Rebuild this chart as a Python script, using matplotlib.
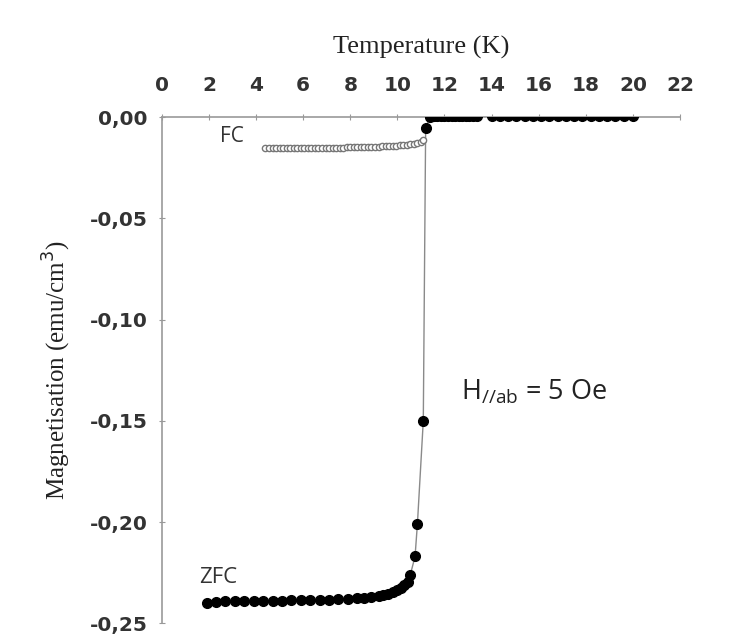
import numpy as np
import matplotlib
matplotlib.use('Agg')
import matplotlib.pyplot as plt

# ZFC branch (filled markers)
zfc_T = [1.9, 2.3, 2.7, 3.1, 3.5, 3.9, 4.3, 4.7, 5.1, 5.5, 5.9, 6.3, 6.7, 7.1, 7.5,
         7.9, 8.3, 8.6, 8.9, 9.2, 9.4, 9.6, 9.8, 10.0, 10.15, 10.3, 10.45, 10.55,
         10.75, 10.85, 11.1, 11.2, 11.4, 11.55, 11.7, 11.85, 12.0, 12.15, 12.3,
         12.45, 12.6, 12.75, 12.9, 13.05, 13.2, 13.4, 14.0, 14.35, 14.7, 15.05,
         15.4, 15.75, 16.1, 16.45, 16.8, 17.15, 17.5, 17.85, 18.2, 18.55, 18.9,
         19.25, 19.6, 20.0]
zfc_M = [-0.2400, -0.2393, -0.2391, -0.2390, -0.2390, -0.2389, -0.2389, -0.2388,
         -0.2388, -0.2387, -0.2387, -0.2386, -0.2385, -0.2384, -0.2382, -0.2380,
         -0.2377, -0.2374, -0.2370, -0.2365, -0.2360, -0.2353, -0.2345, -0.2335,
         -0.2325, -0.2312, -0.2295, -0.2260, -0.2170, -0.2010, -0.1500, -0.0054,
         0.0002, 0.0003, 0.0003, 0.0003, 0.0003, 0.0003, 0.0003, 0.0003, 0.0003,
         0.0003, 0.0003, 0.0003, 0.0003, 0.0003, 0.0003, 0.0003, 0.0003, 0.0003,
         0.0003, 0.0003, 0.0003, 0.0003, 0.0003, 0.0003, 0.0003, 0.0003, 0.0003,
         0.0003, 0.0003, 0.0003, 0.0003, 0.0003]

# FC branch (open markers)
fc_T = [4.4, 4.55, 4.7, 4.85, 5.0, 5.15, 5.3, 5.45, 5.6, 5.75, 5.9, 6.05, 6.2,
        6.35, 6.5, 6.65, 6.8, 6.95, 7.1, 7.25, 7.4, 7.55, 7.7, 7.85, 8.0, 8.15,
        8.3, 8.45, 8.6, 8.75, 8.9, 9.05, 9.2, 9.35, 9.5, 9.65, 9.8, 9.95, 10.1,
        10.25, 10.4, 10.55, 10.7, 10.85, 11.0, 11.1]
fc_M = [-0.0153, -0.0153, -0.0153, -0.0153, -0.0153, -0.0153, -0.0153, -0.0153,
        -0.0153, -0.0153, -0.0153, -0.0153, -0.0153, -0.0153, -0.0153, -0.0152,
        -0.0152, -0.0152, -0.0152, -0.0152, -0.0151, -0.0151, -0.0151, -0.0150,
        -0.0150, -0.0150, -0.0149, -0.0149, -0.0148, -0.0148, -0.0147, -0.0146,
        -0.0146, -0.0145, -0.0144, -0.0143, -0.0142, -0.0141, -0.0140, -0.0138,
        -0.0136, -0.0134, -0.0131, -0.0127, -0.0121, -0.0114]

x_ticks = [0, 2, 4, 6, 8, 10, 12, 14, 16, 18, 20, 22]
y_ticks = [0.0, -0.05, -0.10, -0.15, -0.20, -0.25]
y_ticklabels = ['0,00', '-0,05', '-0,10', '-0,15', '-0,20', '-0,25']

fig = plt.figure(figsize=(7.49, 6.36), dpi=100)
ax = fig.add_axes([0.216, 0.020, 0.692, 0.796])

ax.plot(zfc_T, zfc_M, color='#8a8a8a', lw=1.0, zorder=1)
ax.plot(zfc_T, zfc_M, 'o', ms=7, color='black', mec='black', zorder=3)
ax.plot(fc_T, fc_M, color='#8a8a8a', lw=0.8, zorder=1)
ax.plot(fc_T, fc_M, 'o', ms=4.5, mfc='white', mec='#777777', mew=1.0, zorder=2)

ax.set_xlim(0, 22)
ax.set_ylim(-0.25, 0.0)

ax.xaxis.tick_top()
ax.xaxis.set_label_position('top')
ax.set_xticks(x_ticks)
ax.set_yticks(y_ticks)
ax.set_yticklabels(y_ticklabels)

for lab in ax.get_xticklabels() + ax.get_yticklabels():
    lab.set_fontfamily('DejaVu Sans')
    lab.set_fontweight('bold')
    lab.set_fontsize(14.5)
    lab.set_color('#333333')

ax.tick_params(axis='both', direction='inout', length=4, width=0.8,
               color='#999999')
ax.tick_params(axis='x', pad=14)
ax.tick_params(axis='y', pad=8)

for side in ['right', 'bottom']:
    ax.spines[side].set_visible(False)
for side in ['top', 'left']:
    ax.spines[side].set_color('#999999')
    ax.spines[side].set_linewidth(1.2)

ax.set_xlabel('Temperature (K)', family='Liberation Serif', fontsize=19,
              labelpad=16, color='#222222')
ax.set_ylabel('Magnetisation (emu/cm$^3$)', family='Liberation Serif',
              fontsize=18, labelpad=12, color='#222222')

ax.text(2.45, -0.0095, 'FC', family='Open Sans', fontsize=15, color='#333333',
        ha='left', va='center')
ax.text(1.6, -0.2275, 'ZFC', family='Open Sans', fontsize=16, color='#333333',
        ha='left', va='center')
ax.text(12.7, -0.136, r'H$_{\mathregular{//ab}}$ = 5 Oe', family='Open Sans',
        fontsize=19.5, color='#222222', ha='left', va='center')

fig.savefig('out.png', dpi=100)
